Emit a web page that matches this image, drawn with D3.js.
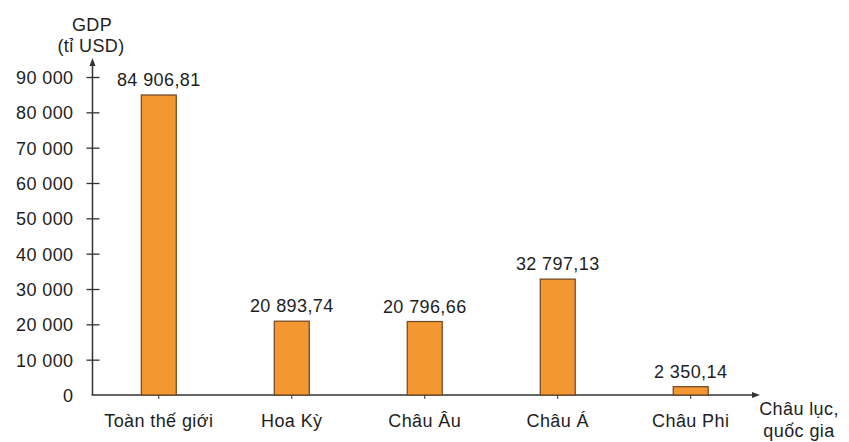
<!DOCTYPE html>
<html><head><meta charset="utf-8">
<script src="https://cdn.jsdelivr.net/npm/d3@7"></script>
<style>body{margin:0;background:#fff}svg{display:block}text{font-family:"Liberation Sans",Arial,sans-serif;fill:#1e1e1e;letter-spacing:0.4px}</style>
</head><body><svg id="c" width="849" height="442"></svg>
<script>
const categories = ["Toàn thế giới","Hoa Kỳ","Châu Âu","Châu Á","Châu Phi"];
const values = [84906.81, 20893.74, 20796.66, 32797.13, 2350.14];
const valueLabels = ["84 906,81","20 893,74","20 796,66","32 797,13","2 350,14"];
const yTicks = [0,10000,20000,30000,40000,50000,60000,70000,80000,90000];
const yTickLabels = ["0","10 000","20 000","30 000","40 000","50 000","60 000","70 000","80 000","90 000"];

const svg = d3.select("#c");
const x0 = 92.5, y0 = 395;
const y = d3.scaleLinear().domain([0,90000]).range([y0, 77]);
const x = d3.scaleBand().domain(categories).range([x0, 757]).paddingInner(0.737).paddingOuter(0.367);
const fs = 18;

// axes
svg.append("line").attr("x1",x0).attr("x2",x0).attr("y1",y0).attr("y2",64).attr("stroke","#333").attr("stroke-width",1.5);
svg.append("path").attr("d",`M${x0-3},66 L${x0},58 L${x0+3},66 Z`).attr("fill","#333");
svg.append("line").attr("x1",x0-1).attr("x2",754).attr("y1",y0).attr("y2",y0).attr("stroke","#333").attr("stroke-width",1.5);
svg.append("path").attr("d",`M752,${y0-3} L760,${y0} L752,${y0+3} Z`).attr("fill","#333");

const yAxis = d3.axisLeft(y).tickValues(yTicks).tickFormat((d,i)=>yTickLabels[i]).tickSize(0).tickPadding(19);
const gy = svg.append("g").attr("transform",`translate(${x0},0)`).call(yAxis);
gy.select(".domain").remove();
gy.selectAll("text").attr("font-size",fs).attr("fill","#1e1e1e").attr("font-family","Liberation Sans, Arial, sans-serif").attr("dy","0.36em");
gy.selectAll(".tick").filter(d=>d>0).append("line").attr("x1",-6).attr("x2",7).attr("stroke","#333").attr("stroke-width",1.3);

// bars
svg.selectAll("rect.bar").data(values).enter().append("rect")
 .attr("x",(d,i)=>x(categories[i])).attr("width",x.bandwidth())
 .attr("y",d=>y(d)).attr("height",d=>y0-y(d))
 .attr("fill","#F39733").attr("stroke","#6b4420").attr("stroke-width",1.2);

// small ticks
svg.selectAll("line.ct").data(categories).enter().append("line")
 .attr("x1",d=>x(d)+x.bandwidth()/2).attr("x2",d=>x(d)+x.bandwidth()/2)
 .attr("y1",y0).attr("y2",y0+4).attr("stroke","#333").attr("stroke-width",1);

// value labels
svg.selectAll("text.v").data(values).enter().append("text")
 .attr("x",(d,i)=>x(categories[i])+x.bandwidth()/2).attr("y",d=>y(d)-9)
 .attr("text-anchor","middle").attr("font-size",fs).text((d,i)=>valueLabels[i]);

// category labels
svg.selectAll("text.c").data(categories).enter().append("text")
 .attr("x",d=>x(d)+x.bandwidth()/2).attr("y",427)
 .attr("text-anchor","middle").attr("font-size",fs).text(d=>d);

// titles
svg.append("text").attr("x",92).attr("y",31).attr("text-anchor","middle").attr("font-size",fs).text("GDP");
svg.append("text").attr("x",91).attr("y",52).attr("text-anchor","middle").attr("font-size",fs).text("(tỉ USD)");
svg.append("text").attr("x",799).attr("y",415).attr("text-anchor","middle").attr("font-size",fs).text("Châu lục,");
svg.append("text").attr("x",799).attr("y",437).attr("text-anchor","middle").attr("font-size",fs).text("quốc gia");
</script></body></html>
